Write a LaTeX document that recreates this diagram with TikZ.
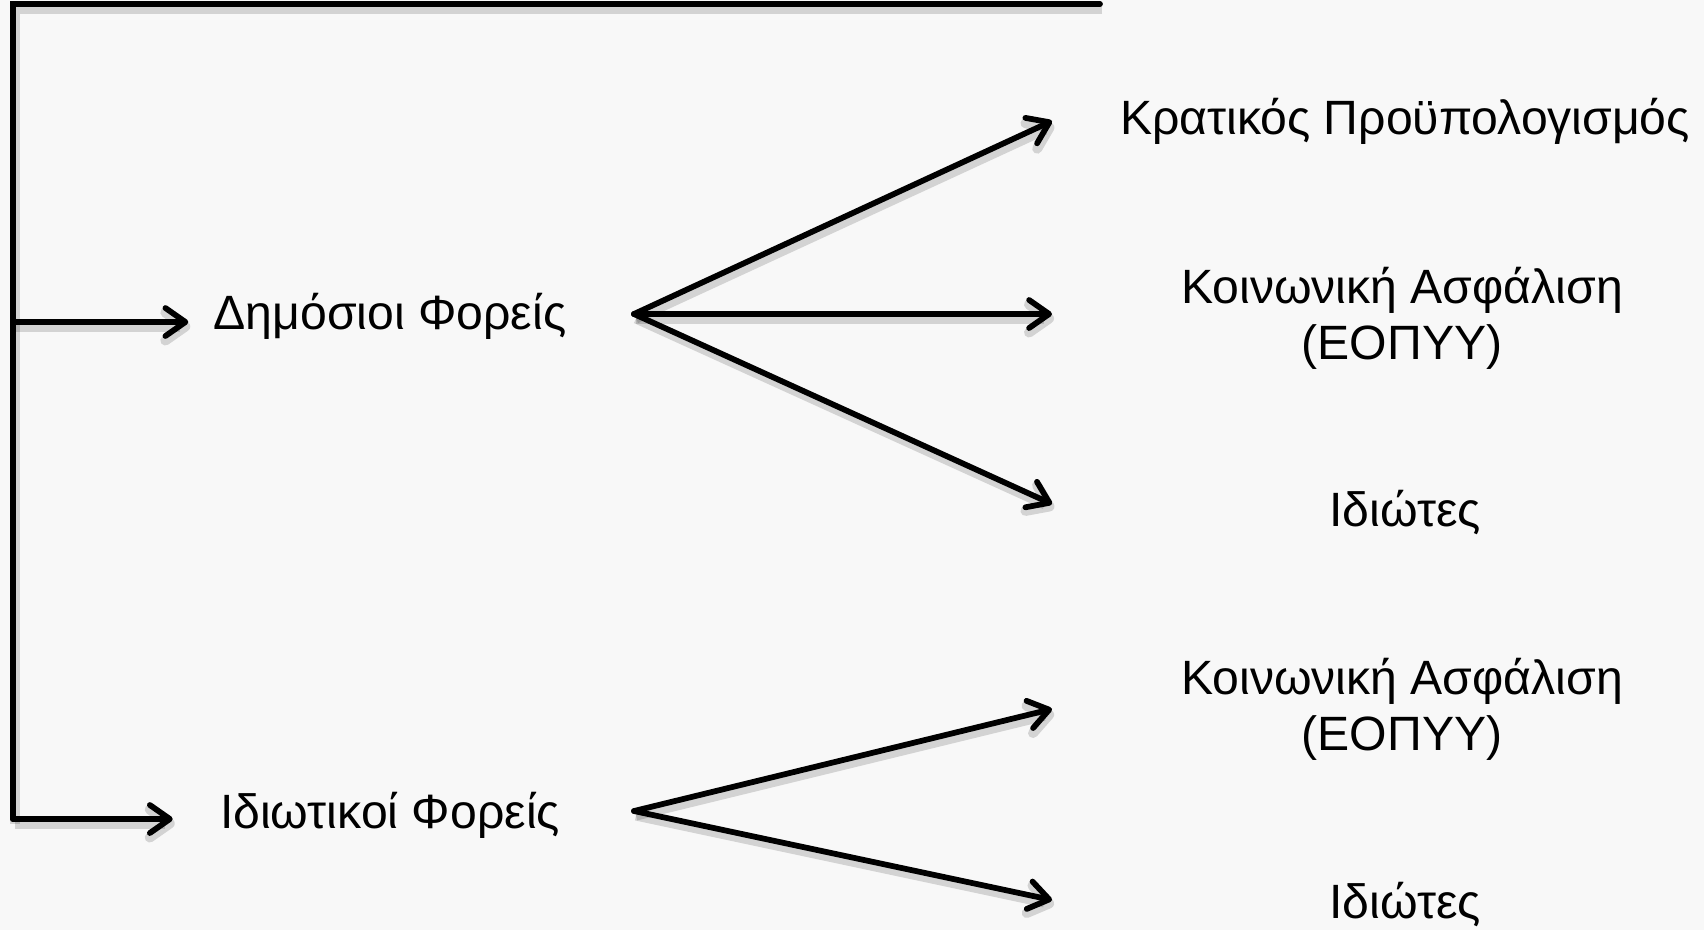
\documentclass[tikz,border=0pt]{standalone}
\usepackage{fontspec}
\setmainfont{Liberation Sans}
\usetikzlibrary{arrows.meta}

\definecolor{paper}{RGB}{248,248,248}
\tikzset{
  rail/.style={line width=1.15mm, line cap=round},
  flow/.style={line width=1.15mm, line cap=round,
    -{Straight Barb[length=4mm,width=5.6mm,round]}},
  shade/.style={preaction={draw=black, opacity=.15, line width=2mm,
    transform canvas={shift={(.4mm,-.9mm)}}}},
  lbl/.style={font=\fontsize{27.4}{32}\selectfont, align=center, inner sep=0pt}
}

\begin{document}
\begin{tikzpicture}[x=.2mm,y=-.2mm]

	\fill[paper] (0,0) rectangle (1704,930);
	\useasboundingbox (0,0) rectangle (1704,930);

	% frame
	\coordinate (tr) at (1100,4);
	\coordinate (tl) at (13,4);
	\coordinate (bl) at (13,819);
	\coordinate (pubin) at (13,322);
	\draw[rail,shade] (tr) -- (tl) -- (bl);

	% left labels
	\node[lbl] (pub) at (390,316) {Δημόσιοι Φορείς};
	\node[lbl] (priv) at (390,815) {Ιδιωτικοί Φορείς};

	\draw[flow,shade] (pubin) -- ([xshift=-5mm]pub.west |- pubin);
	\draw[flow,shade] (bl) -- ([xshift=-9.4mm]priv.west |- bl);

	% public fan
	\coordinate (pubfan) at (634,314);
	\coordinate (p1) at (1052,121);
	\coordinate (p2) at (1052,314);
	\coordinate (p3) at (1052,504);
	\node[lbl] (budget) at (1405,121) {Κρατικός Προϋπολογισμός};
	\node[lbl] (ins1) at (1402,318) {Κοινωνική Ασφάλιση\\(ΕΟΠΥΥ)};
	\node[lbl] (own1) at (1405,512) {Ιδιώτες};
	\draw[flow,shade] (pubfan) -- (p1);
	\draw[flow,shade] (pubfan) -- (p2);
	\draw[flow,shade] (pubfan) -- (p3);

	% private fan
	\coordinate (privfan) at (634,811);
	\coordinate (q1) at (1052,709);
	\coordinate (q2) at (1052,900);
	\node[lbl] (ins2) at (1402,709) {Κοινωνική Ασφάλιση\\(ΕΟΠΥΥ)};
	\node[lbl] (own2) at (1405,904) {Ιδιώτες};
	\draw[flow,shade] (privfan) -- (q1);
	\draw[flow,shade] (privfan) -- (q2);
\end{tikzpicture}
\end{document}
